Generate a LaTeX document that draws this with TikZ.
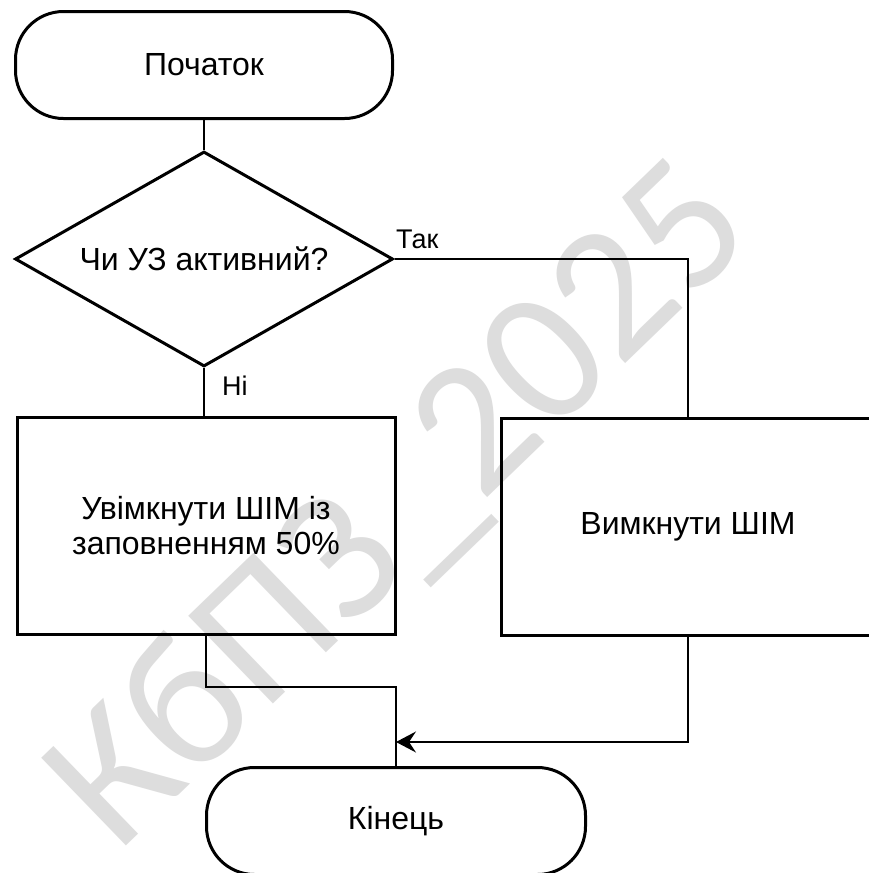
\documentclass[tikz,border=0pt]{standalone}
\usepackage{fontspec}
\setmainfont{Liberation Sans}
\newfontfamily\wmfont{Carlito}
\usetikzlibrary{shapes.geometric,arrows.meta}
\definecolor{wmgray}{RGB}{221,221,221}
\tikzset{
  shapebox/.style={draw=black, line width=3pt, inner sep=0pt, align=center,
    font=\fontsize{32}{35}\selectfont},
  term/.style={shapebox, rectangle, rounded corners=48pt,
    minimum width=377pt, minimum height=107pt},
  procbox/.style={shapebox, rectangle, minimum height=217pt},
  decision/.style={shapebox, diamond, aspect=1.76,
    minimum width=378pt, minimum height=215pt},
  conn/.style={draw=black, line width=1.5pt},
  lbl/.style={inner sep=0pt, font=\fontsize{27}{30}\selectfont},
  wm/.style={text=wmgray, inner sep=0pt, font=\wmfont\fontsize{190}{195}\selectfont}
}
\begin{document}
\begin{tikzpicture}[x=1pt,y=-1pt]
\useasboundingbox (0,0) rectangle (869,873);
\fill[white] (0,0) rectangle (869,873);

% watermark
\node[wm, rotate=44] (wmk) at (402,508) {КбПЗ\_2025};

% nodes
\node[term] (s) at (204,65) {Початок};
\node[decision] (q) at (204,259) {Чи УЗ активний?};
\node[procbox, minimum width=378pt] (l) at (206,526) {Увімкнути ШІМ із\\заповненням 50\%};
\node[procbox, minimum width=374pt] (r) at (688,526.5) {Вимкнути ШІМ};
\node[term, minimum width=379pt] (e) at (396,821) {Кінець};

% labels
\node[lbl, anchor=base west] (yes) at (396,248) {Так};
\node[lbl, anchor=base west] (no) at (222,395) {Ні};

% connectors
\coordinate (lj) at (206,687);
\coordinate (rj) at (688,742);
\draw[conn] (s.south) -- (q.north);
\draw[conn] (q.east) -| (r.north);
\draw[conn] (q.south) -- (q.south |- l.north);
\draw[conn] (l.south) -- (lj) -| (e.north);
\draw[conn, -{Stealth[length=20pt, width=21pt, inset=7pt]}] (r.south) -- (rj) -- (e.north |- rj);
\end{tikzpicture}
\end{document}
